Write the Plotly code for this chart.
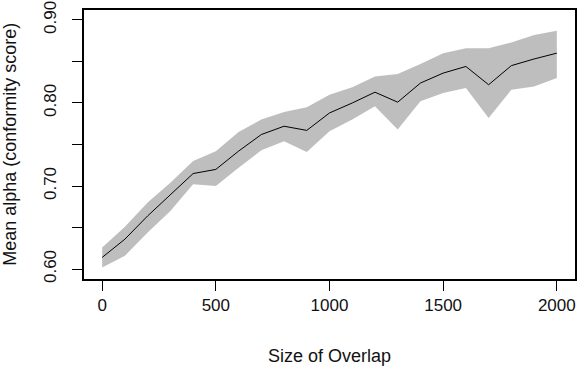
"""Mean alpha (conformity score) vs size of overlap, with shaded band."""

import plotly.graph_objects as go

overlap_size = [0, 100, 200, 300, 400, 500, 600, 700, 800, 900, 1000,
                1100, 1200, 1300, 1400, 1500, 1600, 1700, 1800, 1900, 2000]
mean_alpha = [0.614, 0.636, 0.664, 0.690, 0.715, 0.720, 0.742, 0.762, 0.772, 0.767, 0.788,
              0.800, 0.813, 0.801, 0.824, 0.836, 0.844, 0.822, 0.845, 0.853, 0.860]
band_upper = [0.626, 0.651, 0.680, 0.704, 0.730, 0.742, 0.765, 0.780, 0.789, 0.795, 0.810,
              0.819, 0.832, 0.835, 0.847, 0.860, 0.866, 0.866, 0.873, 0.882, 0.887]
band_lower = [0.602, 0.616, 0.644, 0.670, 0.702, 0.700, 0.722, 0.743, 0.754, 0.741, 0.766,
              0.780, 0.796, 0.768, 0.802, 0.812, 0.818, 0.782, 0.816, 0.820, 0.830]

y_tick_vals = [0.60, 0.65, 0.70, 0.75, 0.80, 0.85, 0.90]
y_tick_text = ["0.60", "", "0.70", "", "0.80", "", "0.90"]
x_tick_vals = [0, 500, 1000, 1500, 2000]

FONT = "Liberation Sans, Arial, sans-serif"
BAND = "#BEBEBE"

fig = go.Figure()
fig.add_trace(go.Scatter(x=overlap_size, y=band_upper, mode="lines",
                         line=dict(width=0, color=BAND), showlegend=False,
                         hoverinfo="skip"))
fig.add_trace(go.Scatter(x=overlap_size, y=band_lower, mode="lines",
                         line=dict(width=0, color=BAND), fill="tonexty",
                         fillcolor=BAND, showlegend=False, hoverinfo="skip"))
fig.add_trace(go.Scatter(x=overlap_size, y=mean_alpha, mode="lines",
                         line=dict(width=1, color="black"), showlegend=False))

axis_common = dict(
    showgrid=False, zeroline=False, showline=True, mirror=True,
    linecolor="black", linewidth=1.5, ticks="outside", ticklen=10,
    tickwidth=1, tickcolor="black", ticklabeloverflow="allow",
    tickfont=dict(family=FONT, size=17, color="#111"),
)

fig.update_xaxes(range=[-80, 2080], tickvals=x_tick_vals, ticklabelstandoff=0,
                 **axis_common)
fig.update_yaxes(range=[0.588, 0.912], tickvals=y_tick_vals, ticktext=y_tick_text,
                 tickangle=-90, ticklabelstandoff=9, **axis_common)

fig.add_annotation(text="Size of Overlap", xref="paper", yref="paper",
                   x=0.5, y=-0.287, xanchor="center", yanchor="middle",
                   showarrow=False, font=dict(family=FONT, size=18, color="#111"))
fig.add_annotation(text="Mean alpha (conformity score)", xref="paper", yref="paper",
                   x=-0.152, y=0.5, xanchor="center", yanchor="middle",
                   textangle=-90, showarrow=False,
                   font=dict(family=FONT, size=18, color="#111"))

fig.update_layout(
    width=578, height=366,
    margin=dict(l=84, r=1, t=7, b=87),
    paper_bgcolor="white", plot_bgcolor="white",
)

# the page body has a default 8px margin; drop it so the figure sits at 0,0
fig.write_html("out.html", config={"displayModeBar": False},
               post_script="document.body.style.margin='0';")
